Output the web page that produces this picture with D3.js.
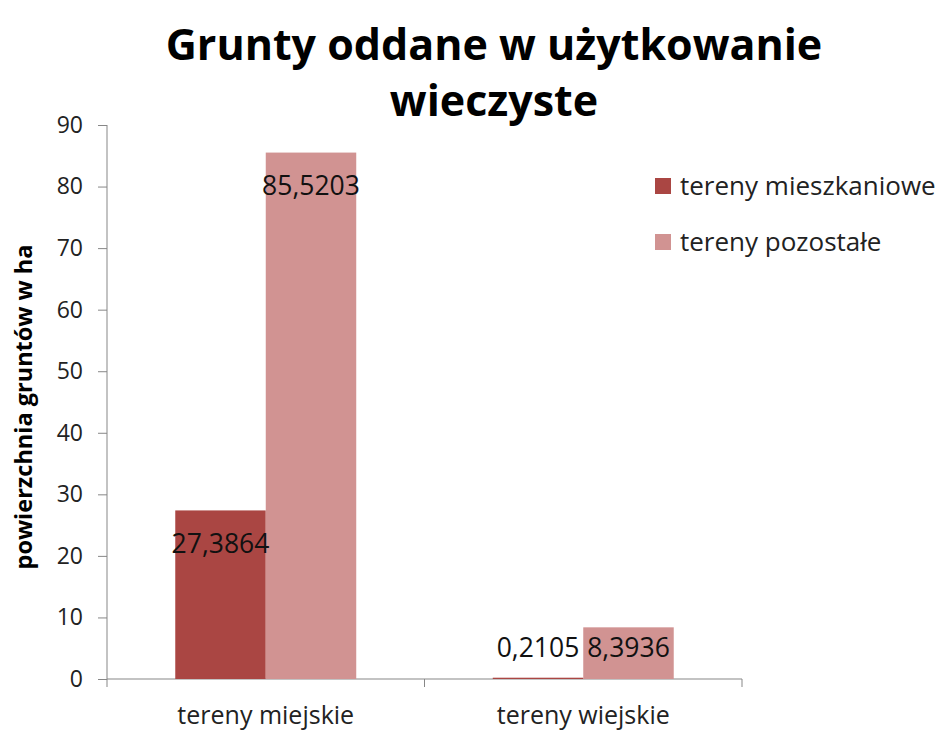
<!DOCTYPE html>
<html><head><meta charset="utf-8">
<script src="https://cdn.jsdelivr.net/npm/d3@7"></script>
<style>html,body{margin:0;padding:0;background:#fff;}svg{display:block;}</style>
</head><body>
<svg id="chart" width="939" height="731"></svg>
<script>
const categories = ["tereny miejskie", "tereny wiejskie"];
const seriesNames = ["tereny mieszkaniowe", "tereny pozostałe"];
const mieszkaniowe = [27.3864, 0.2105];
const pozostale = [85.5203, 8.3936];
const yTicks = [0,10,20,30,40,50,60,70,80,90];
const colors = ["#AA4643", "#D19392"];
const series = [mieszkaniowe, pozostale];

const svg = d3.select("#chart");
const font = "'Open Sans', sans-serif";
const pLeft = 107, pRight = 742, pTop = 125, pBottom = 679;

const x0 = d3.scaleBand().domain(categories).range([pLeft, pRight]).paddingInner(0).paddingOuter(0);
const y = d3.scaleLinear().domain([0, 90]).range([pBottom, pTop]);
const groupW = x0.bandwidth() * 0.57;
const x1 = d3.scaleBand().domain(seriesNames).range([0, groupW]);
const axisColor = "#878787";

// y axis
const yAxis = svg.append("g").attr("transform", `translate(${pLeft},0)`)
  .call(d3.axisLeft(y).tickValues(yTicks).tickSize(9).tickPadding(15).tickFormat(d3.format("d")));
yAxis.select(".domain").attr("stroke", axisColor).attr("d", `M0,${pTop}V${pBottom}`);
yAxis.selectAll(".tick line").attr("stroke", axisColor);
yAxis.selectAll(".tick text").attr("font-family", font).attr("font-size", 23).attr("fill", "#222");

// x axis
const xg = svg.append("g").attr("transform", `translate(0,${pBottom})`);
xg.append("line").attr("x1", pLeft).attr("x2", pRight).attr("y1", 0).attr("y2", 0).attr("stroke", axisColor);
const bounds = [pLeft].concat(categories.map(c => x0(c) + x0.bandwidth()));
xg.selectAll("line.tk").data(bounds).enter().append("line").attr("class","tk")
  .attr("x1", d => d).attr("x2", d => d).attr("y1", 0).attr("y2", 8).attr("stroke", axisColor);
xg.selectAll("text").data(categories).enter().append("text")
  .attr("x", d => x0(d) + x0.bandwidth()/2).attr("y", 45)
  .attr("text-anchor", "middle").attr("font-family", font).attr("font-size", 25).attr("fill", "#222")
  .text(d => d);

// bars
const groups = svg.selectAll("g.cat").data(categories).enter().append("g")
  .attr("transform", d => `translate(${x0(d) + (x0.bandwidth() - groupW)/2},0)`);
groups.each(function(cat, ci) {
  const g = d3.select(this);
  seriesNames.forEach((s, si) => {
    const v = series[si][ci];
    g.append("rect").attr("x", x1(s)).attr("width", x1.bandwidth())
      .attr("y", y(v)).attr("height", y(0) - y(v)).attr("fill", colors[si]);
  });
  seriesNames.forEach((s, si) => {
    const v = series[si][ci];
    const ly = Math.min(y(v) + 33, y(0) - 31);
    g.append("text").attr("x", x1(s) + x1.bandwidth()/2).attr("y", ly)
      .attr("dy", "0.35em").attr("text-anchor", "middle")
      .attr("font-family", font).attr("font-size", 26.5).attr("fill", "#111")
      .text(String(v).replace(".", ","));
  });
});

// title
const title = svg.append("text").attr("text-anchor", "middle").attr("font-family", font)
  .attr("font-weight", "bold").attr("font-size", 43).attr("fill", "#000");
title.append("tspan").attr("x", 494).attr("y", 60).text("Grunty oddane w użytkowanie");
title.append("tspan").attr("x", 494).attr("y", 116).text("wieczyste");

// y axis title
svg.append("text").attr("transform", "translate(32,407) rotate(-90)")
  .attr("text-anchor", "middle").attr("font-family", font).attr("font-weight", "bold")
  .attr("font-size", 23.5).attr("fill", "#000").text("powierzchnia gruntów  w ha");

// legend
const leg = svg.selectAll("g.leg").data(seriesNames).enter().append("g")
  .attr("transform", (d, i) => `translate(655,${178 + i*56})`);
leg.append("rect").attr("width", 16).attr("height", 16).attr("fill", (d, i) => colors[i]);
leg.append("text").attr("x", 25).attr("y", 8).attr("dy", "0.35em")
  .attr("font-family", font).attr("font-size", 26).attr("fill", "#222").text(d => d);
</script>
</body></html>
